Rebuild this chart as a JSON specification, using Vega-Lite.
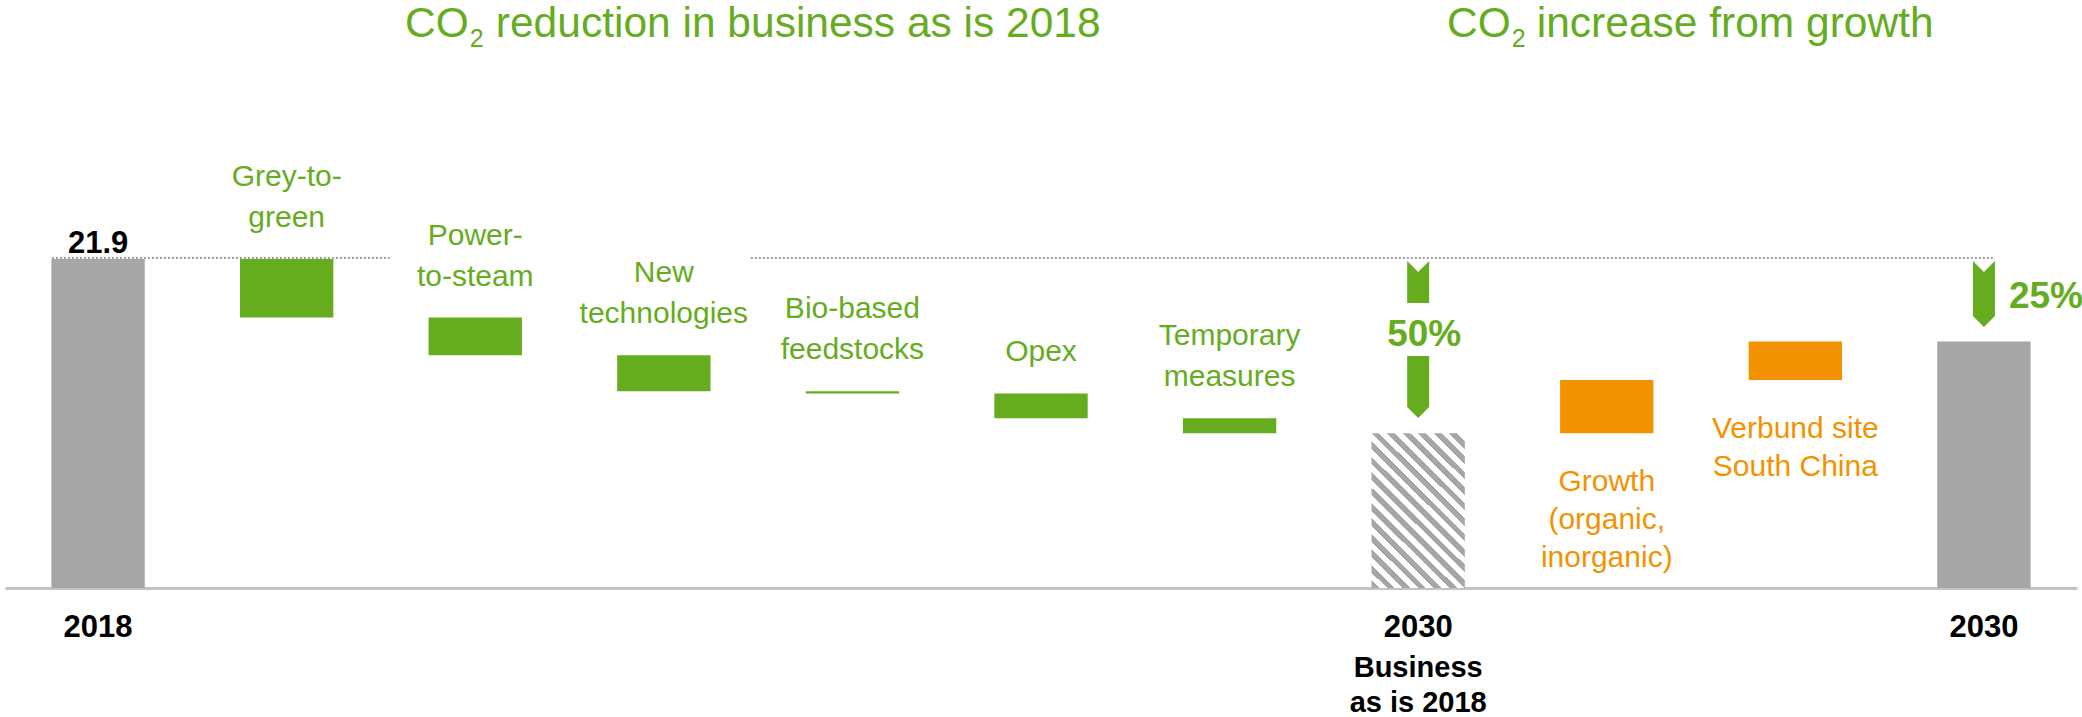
{
  "$schema": "https://vega.github.io/schema/vega-lite/v6.json",
  "width": 2072,
  "height": 588,
  "autosize": {"type": "none"},
  "padding": {"left": 5, "right": 5, "top": 0, "bottom": 129},
  "background": "white",
  "config": {"view": {"stroke": null}, "font": "Liberation Sans", "text": {"font": "Liberation Sans"}},
  "data": {"values": [
    {"cat": "2018", "start": 0, "end": 21.9, "kind": "total", "year": "2018"},
    {"cat": "Grey-to-green", "start": 21.9, "end": 18.0, "kind": "reduction", "l1": "Grey-to-", "l2": "green"},
    {"cat": "Power-to-steam", "start": 18.0, "end": 15.5, "kind": "reduction", "l1": "Power-", "l2": "to-steam"},
    {"cat": "New technologies", "start": 15.5, "end": 13.1, "kind": "reduction", "l1": "New", "l2": "technologies"},
    {"cat": "Bio-based feedstocks", "start": 13.1, "end": 12.95, "kind": "reduction", "l1": "Bio-based", "l2": "feedstocks"},
    {"cat": "Opex", "start": 12.95, "end": 11.3, "kind": "reduction", "l1": "", "l2": "Opex"},
    {"cat": "Temporary measures", "start": 11.3, "end": 10.3, "kind": "reduction", "l1": "Temporary", "l2": "measures"},
    {"cat": "2030 BAU", "start": 0, "end": 10.3, "kind": "bau", "year": "2030", "sub": ["Business", "as is 2018"], "pct": "50%"},
    {"cat": "Growth", "start": 10.3, "end": 13.85, "kind": "growth", "label": ["Growth", "(organic,", "inorganic)"]},
    {"cat": "Verbund site South China", "start": 13.85, "end": 16.4, "kind": "growth", "label": ["Verbund site", "South China"]},
    {"cat": "2030", "start": 0, "end": 16.4, "kind": "total", "year": "2030", "pct": "25%"}
  ]},
  "encoding": {
    "x": {
      "field": "cat", "type": "nominal", "sort": null,
      "scale": {"domain": ["2018", "Grey-to-green", "Power-to-steam", "New technologies", "Bio-based feedstocks", "Opex", "Temporary measures", "2030 BAU", "Growth", "Verbund site South China", "2030"], "paddingInner": 0.505, "paddingOuter": 0.246},
      "axis": {"domain": true, "domainColor": "#C3C3C3", "domainWidth": 3, "ticks": false, "labels": false, "title": null, "grid": false}
    }
  },
  "layer": [
    {
      "transform": [{"filter": "datum.kind != 'bau'"}],
      "mark": {"type": "bar"},
      "encoding": {
        "y": {"field": "start", "type": "quantitative", "scale": {"domain": [0, 39.14], "nice": false}, "axis": null},
        "y2": {"field": "end"},
        "color": {"field": "kind", "type": "nominal", "scale": {"domain": ["total", "reduction", "growth"], "range": ["#A6A6A6", "#65AC1E", "#F39200"]}, "legend": null}
      }
    },
    {
      "transform": [{"filter": "datum.kind == 'bau'"}],
      "mark": {"type": "bar", "fill": {"gradient": "linear", "x1": 0, "y1": 1, "x2": 0.705, "y2": -0.176, "stops": [
        {"offset": 0, "color": "#A6A6A6"}, {"offset": 0.03125, "color": "#A6A6A6"}, {"offset": 0.03125, "color": "#FFFFFF"}, {"offset": 0.0625, "color": "#FFFFFF"},
        {"offset": 0.0625, "color": "#A6A6A6"}, {"offset": 0.09375, "color": "#A6A6A6"}, {"offset": 0.09375, "color": "#FFFFFF"}, {"offset": 0.125, "color": "#FFFFFF"},
        {"offset": 0.125, "color": "#A6A6A6"}, {"offset": 0.15625, "color": "#A6A6A6"}, {"offset": 0.15625, "color": "#FFFFFF"}, {"offset": 0.1875, "color": "#FFFFFF"},
        {"offset": 0.1875, "color": "#A6A6A6"}, {"offset": 0.21875, "color": "#A6A6A6"}, {"offset": 0.21875, "color": "#FFFFFF"}, {"offset": 0.25, "color": "#FFFFFF"},
        {"offset": 0.25, "color": "#A6A6A6"}, {"offset": 0.28125, "color": "#A6A6A6"}, {"offset": 0.28125, "color": "#FFFFFF"}, {"offset": 0.3125, "color": "#FFFFFF"},
        {"offset": 0.3125, "color": "#A6A6A6"}, {"offset": 0.34375, "color": "#A6A6A6"}, {"offset": 0.34375, "color": "#FFFFFF"}, {"offset": 0.375, "color": "#FFFFFF"},
        {"offset": 0.375, "color": "#A6A6A6"}, {"offset": 0.40625, "color": "#A6A6A6"}, {"offset": 0.40625, "color": "#FFFFFF"}, {"offset": 0.4375, "color": "#FFFFFF"},
        {"offset": 0.4375, "color": "#A6A6A6"}, {"offset": 0.46875, "color": "#A6A6A6"}, {"offset": 0.46875, "color": "#FFFFFF"}, {"offset": 0.5, "color": "#FFFFFF"},
        {"offset": 0.5, "color": "#A6A6A6"}, {"offset": 0.53125, "color": "#A6A6A6"}, {"offset": 0.53125, "color": "#FFFFFF"}, {"offset": 0.5625, "color": "#FFFFFF"},
        {"offset": 0.5625, "color": "#A6A6A6"}, {"offset": 0.59375, "color": "#A6A6A6"}, {"offset": 0.59375, "color": "#FFFFFF"}, {"offset": 0.625, "color": "#FFFFFF"},
        {"offset": 0.625, "color": "#A6A6A6"}, {"offset": 0.65625, "color": "#A6A6A6"}, {"offset": 0.65625, "color": "#FFFFFF"}, {"offset": 0.6875, "color": "#FFFFFF"},
        {"offset": 0.6875, "color": "#A6A6A6"}, {"offset": 0.71875, "color": "#A6A6A6"}, {"offset": 0.71875, "color": "#FFFFFF"}, {"offset": 0.75, "color": "#FFFFFF"},
        {"offset": 0.75, "color": "#A6A6A6"}, {"offset": 0.78125, "color": "#A6A6A6"}, {"offset": 0.78125, "color": "#FFFFFF"}, {"offset": 0.8125, "color": "#FFFFFF"},
        {"offset": 0.8125, "color": "#A6A6A6"}, {"offset": 0.84375, "color": "#A6A6A6"}, {"offset": 0.84375, "color": "#FFFFFF"}, {"offset": 0.875, "color": "#FFFFFF"},
        {"offset": 0.875, "color": "#A6A6A6"}, {"offset": 0.90625, "color": "#A6A6A6"}, {"offset": 0.90625, "color": "#FFFFFF"}, {"offset": 0.9375, "color": "#FFFFFF"},
        {"offset": 0.9375, "color": "#A6A6A6"}, {"offset": 0.96875, "color": "#A6A6A6"}, {"offset": 0.96875, "color": "#FFFFFF"}, {"offset": 1, "color": "#FFFFFF"}
      ]}},
      "encoding": {
        "y": {"field": "start", "type": "quantitative", "scale": {"domain": [0, 39.14], "nice": false}, "axis": null},
        "y2": {"field": "end"}
      }
    },
    {
      "transform": [{"filter": "datum.cat == '2018'"}],
      "mark": {"type": "rule", "color": "#9E9E9E", "strokeWidth": 2, "strokeDash": [2, 2], "xOffset": -46, "x2Offset": 103, "yOffset": -1},
      "encoding": {
        "x": {"datum": "2018"},
        "x2": {"datum": "Grey-to-green"},
        "y": {"field": "end", "type": "quantitative", "scale": {"domain": [0, 39.14], "nice": false}, "axis": null}
      }
    },
    {
      "transform": [{"filter": "datum.cat == '2018'"}],
      "mark": {"type": "rule", "color": "#9E9E9E", "strokeWidth": 2, "strokeDash": [2, 2], "xOffset": 87, "x2Offset": 10, "yOffset": -1},
      "encoding": {
        "x": {"datum": "New technologies"},
        "x2": {"datum": "2030"},
        "y": {"field": "end", "type": "quantitative", "scale": {"domain": [0, 39.14], "nice": false}, "axis": null}
      }
    },
    {
      "transform": [{"filter": "datum.cat == '2018'"}],
      "mark": {"type": "text", "fontSize": 31, "fontWeight": "bold", "color": "#000000", "baseline": "alphabetic", "align": "center", "dy": -6},
      "encoding": {
        "y": {"field": "end", "type": "quantitative", "scale": {"domain": [0, 39.14], "nice": false}, "axis": null},
        "text": {"field": "end", "type": "quantitative", "format": ".1f"}
      }
    },
    {
      "transform": [{"filter": "datum.kind == 'reduction'"}],
      "mark": {"type": "text", "fontSize": 30, "color": "#65AC1E", "baseline": "alphabetic", "align": "center", "dy": -32},
      "encoding": {
        "y": {"field": "start", "type": "quantitative", "scale": {"domain": [0, 39.14], "nice": false}, "axis": null},
        "text": {"field": "l2"}
      }
    },
    {
      "transform": [{"filter": "datum.kind == 'reduction'"}],
      "mark": {"type": "text", "fontSize": 30, "color": "#65AC1E", "baseline": "alphabetic", "align": "center", "dy": -73},
      "encoding": {
        "y": {"field": "start", "type": "quantitative", "scale": {"domain": [0, 39.14], "nice": false}, "axis": null},
        "text": {"field": "l1"}
      }
    },
    {
      "transform": [{"filter": "datum.kind == 'growth'"}],
      "mark": {"type": "text", "fontSize": 30, "color": "#F39200", "baseline": "top", "align": "center", "dy": 34, "lineHeight": 38},
      "encoding": {
        "y": {"field": "start", "type": "quantitative", "scale": {"domain": [0, 39.14], "nice": false}, "axis": null},
        "text": {"field": "label"}
      }
    },
    {
      "transform": [{"filter": "datum.year != null"}],
      "mark": {"type": "text", "fontSize": 31, "fontWeight": "bold", "color": "#000000", "baseline": "alphabetic", "align": "center", "dy": 49},
      "encoding": {
        "y": {"datum": 0, "type": "quantitative", "scale": {"domain": [0, 39.14], "nice": false}, "axis": null},
        "text": {"field": "year"}
      }
    },
    {
      "transform": [{"filter": "datum.sub != null"}],
      "mark": {"type": "text", "fontSize": 29, "fontWeight": "bold", "color": "#000000", "baseline": "top", "align": "center", "dy": 66, "lineHeight": 35},
      "encoding": {
        "y": {"datum": 0, "type": "quantitative", "scale": {"domain": [0, 39.14], "nice": false}, "axis": null},
        "text": {"field": "sub"}
      }
    },
    {
      "transform": [{"filter": "datum.cat == '2030'"}],
      "mark": {"type": "point", "shape": "M-1,-3L0,-2L1,-3L1,2L0,3L-1,2Z", "size": 484, "filled": true, "opacity": 1, "color": "#65AC1E", "strokeWidth": 0},
      "encoding": {
        "y": {"datum": 19.57, "type": "quantitative", "scale": {"domain": [0, 39.14], "nice": false}, "axis": null}
      }
    },
    {
      "transform": [{"filter": "datum.cat == '2030 BAU'"}],
      "mark": {"type": "point", "shape": "M-1,-1.91L0,-0.91L1,-1.91L1,1.91L-1,1.91Z", "size": 484, "filled": true, "opacity": 1, "color": "#65AC1E", "strokeWidth": 0},
      "encoding": {
        "y": {"datum": 20.37, "type": "quantitative", "scale": {"domain": [0, 39.14], "nice": false}, "axis": null}
      }
    },
    {
      "transform": [{"filter": "datum.cat == '2030 BAU'"}],
      "mark": {"type": "point", "shape": "M-1,-2.82L1,-2.82L1,1.82L0,2.82L-1,1.82Z", "size": 484, "filled": true, "opacity": 1, "color": "#65AC1E", "strokeWidth": 0},
      "encoding": {
        "y": {"datum": 13.38, "type": "quantitative", "scale": {"domain": [0, 39.14], "nice": false}, "axis": null}
      }
    },
    {
      "transform": [{"filter": "datum.cat == '2030 BAU'"}],
      "mark": {"type": "text", "fontSize": 37, "fontWeight": "bold", "color": "#65AC1E", "baseline": "alphabetic", "align": "center", "dx": 6},
      "encoding": {
        "y": {"datum": 16.11, "type": "quantitative", "scale": {"domain": [0, 39.14], "nice": false}, "axis": null},
        "text": {"field": "pct"}
      }
    },
    {
      "transform": [{"filter": "datum.cat == '2030'"}],
      "mark": {"type": "text", "fontSize": 37, "fontWeight": "bold", "color": "#65AC1E", "baseline": "alphabetic", "align": "left", "dx": 25},
      "encoding": {
        "y": {"datum": 18.64, "type": "quantitative", "scale": {"domain": [0, 39.14], "nice": false}, "axis": null},
        "text": {"field": "pct"}
      }
    },
    {
      "transform": [{"filter": "datum.cat == 'New technologies'"}],
      "mark": {"type": "text", "fontSize": 42.5, "color": "#65AC1E", "baseline": "alphabetic", "align": "right", "dx": -195},
      "encoding": {
        "y": {"datum": 36.68, "type": "quantitative", "scale": {"domain": [0, 39.14], "nice": false}, "axis": null},
        "text": {"value": "CO"}
      }
    },
    {
      "transform": [{"filter": "datum.cat == 'New technologies'"}],
      "mark": {"type": "text", "fontSize": 25, "color": "#65AC1E", "baseline": "alphabetic", "align": "left", "dx": -194},
      "encoding": {
        "y": {"datum": 36.01, "type": "quantitative", "scale": {"domain": [0, 39.14], "nice": false}, "axis": null},
        "text": {"value": "2"}
      }
    },
    {
      "transform": [{"filter": "datum.cat == 'New technologies'"}],
      "mark": {"type": "text", "fontSize": 42.5, "color": "#65AC1E", "baseline": "alphabetic", "align": "left", "dx": -168},
      "encoding": {
        "y": {"datum": 36.68, "type": "quantitative", "scale": {"domain": [0, 39.14], "nice": false}, "axis": null},
        "text": {"value": "reduction in business as is 2018"}
      }
    },
    {
      "transform": [{"filter": "datum.cat == 'Growth'"}],
      "mark": {"type": "text", "fontSize": 42.5, "color": "#65AC1E", "baseline": "alphabetic", "align": "right", "dx": -96},
      "encoding": {
        "y": {"datum": 36.68, "type": "quantitative", "scale": {"domain": [0, 39.14], "nice": false}, "axis": null},
        "text": {"value": "CO"}
      }
    },
    {
      "transform": [{"filter": "datum.cat == 'Growth'"}],
      "mark": {"type": "text", "fontSize": 25, "color": "#65AC1E", "baseline": "alphabetic", "align": "left", "dx": -95},
      "encoding": {
        "y": {"datum": 36.01, "type": "quantitative", "scale": {"domain": [0, 39.14], "nice": false}, "axis": null},
        "text": {"value": "2"}
      }
    },
    {
      "transform": [{"filter": "datum.cat == 'Growth'"}],
      "mark": {"type": "text", "fontSize": 42.5, "color": "#65AC1E", "baseline": "alphabetic", "align": "left", "dx": -70},
      "encoding": {
        "y": {"datum": 36.68, "type": "quantitative", "scale": {"domain": [0, 39.14], "nice": false}, "axis": null},
        "text": {"value": "increase from growth"}
      }
    }
  ]
}
